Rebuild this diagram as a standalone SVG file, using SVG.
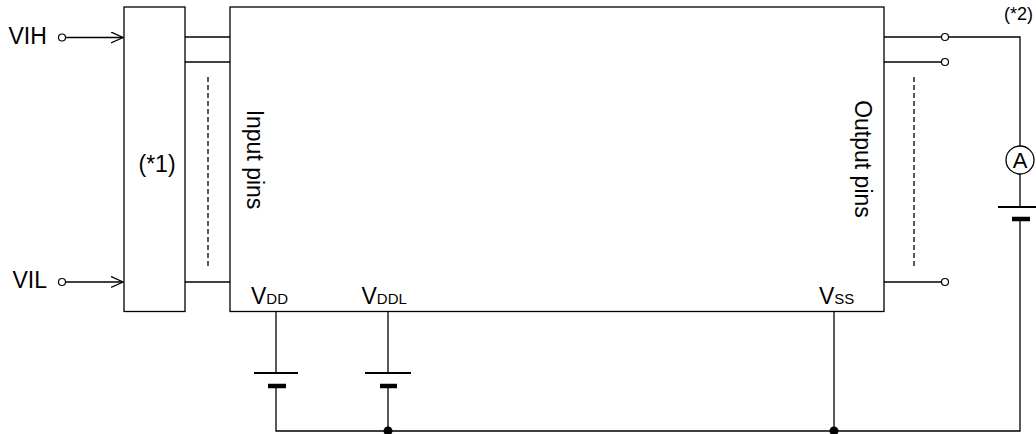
<svg xmlns="http://www.w3.org/2000/svg" width="1036" height="434" viewBox="0 0 1036 434">
<style>
  .ln{stroke:#000;stroke-width:1.3;fill:none}
  .box{stroke:#000;stroke-width:1.3;fill:#fff}
  .dash{stroke:#000;stroke-width:1.3;fill:none;stroke-dasharray:5 3}
  .term{stroke:#000;stroke-width:1.2;fill:#fff}
  .dot{fill:#000}
  .pl1{stroke:#000;stroke-width:2.2}
  .pl2{stroke:#000;stroke-width:4.5}
  text{font-family:"Liberation Sans",Arial,sans-serif;fill:#000}
  .t{font-size:23px}
  .s{font-size:15px}
</style>
<defs>
  <marker id="arr" markerWidth="14" markerHeight="14" refX="12" refY="6" orient="auto" markerUnits="userSpaceOnUse">
    <path d="M0,0.5 L12,6 L0,11.5" fill="none" stroke="#000" stroke-width="1.3"/>
  </marker>
</defs>

<g id="connectors">
  <line class="ln" x1="65.5" y1="37.5" x2="123" y2="37.5" marker-end="url(#arr)"/>
  <line class="ln" x1="65.5" y1="282" x2="123" y2="282" marker-end="url(#arr)"/>
  <line class="ln" x1="185" y1="37" x2="230" y2="37"/>
  <line class="ln" x1="185" y1="62" x2="230" y2="62"/>
  <line class="ln" x1="185" y1="282" x2="230" y2="282"/>
  <line class="dash" x1="208" y1="77" x2="208" y2="266"/>
  <line class="ln" x1="884" y1="37" x2="941.5" y2="37"/>
  <line class="ln" x1="884" y1="62" x2="941.5" y2="62"/>
  <line class="ln" x1="884" y1="282" x2="941.5" y2="282"/>
  <line class="dash" x1="914" y1="77" x2="914" y2="266"/>
  <polyline class="ln" points="948.5,37 1020,37 1020,146"/>
  <line class="ln" x1="1020" y1="174" x2="1020" y2="207"/>
  <polyline class="ln" points="1020,219 1020,431 276,431 276,386"/>
  <line class="ln" x1="276" y1="311.5" x2="276" y2="373"/>
  <line class="ln" x1="388" y1="311.5" x2="388" y2="373"/>
  <line class="ln" x1="388" y1="386" x2="388" y2="431"/>
  <line class="ln" x1="834" y1="311.5" x2="834" y2="431"/>
  <circle class="dot" cx="388" cy="431" r="4.5"/>
  <circle class="dot" cx="834" cy="431" r="4.5"/>
</g>

<g id="vih">
  <text class="t" x="8.5" y="44">VIH</text>
  <circle class="term" cx="62" cy="37.5" r="3.5"/>
</g>
<g id="vil">
  <text class="t" x="12.5" y="288">VIL</text>
  <circle class="term" cx="62" cy="282" r="3.5"/>
</g>

<g id="block1">
  <rect class="box" x="124" y="7" width="61" height="304.5"/>
  <text class="t" x="138.5" y="172">(*1)</text>
</g>

<g id="device">
  <rect class="box" x="230" y="7" width="654" height="304.5"/>
  <text class="t" text-anchor="middle" transform="translate(247,159.5) rotate(90)">Input pins</text>
  <text class="t" text-anchor="middle" transform="translate(855,159) rotate(90)">Output pins</text>
  <text class="t" x="251" y="303.5">V<tspan class="s">DD</tspan></text>
  <text class="t" x="361.5" y="303.5">V<tspan class="s">DDL</tspan></text>
  <text class="t" x="819" y="304">V<tspan class="s">SS</tspan></text>
</g>

<g id="out-terminals">
  <circle class="term" cx="945" cy="37" r="3.5"/>
  <circle class="term" cx="945" cy="62" r="3.5"/>
  <circle class="term" cx="945" cy="282" r="3.5"/>
</g>

<g id="bat-vdd">
  <line class="pl1" x1="254" y1="373" x2="298" y2="373"/>
  <line class="pl2" x1="268" y1="386" x2="286" y2="386"/>
</g>
<g id="bat-vddl">
  <line class="pl1" x1="365" y1="373" x2="411" y2="373"/>
  <line class="pl2" x1="380" y1="386" x2="397" y2="386"/>
</g>
<g id="bat-out">
  <line class="pl1" x1="998" y1="207" x2="1042" y2="207"/>
  <line class="pl2" x1="1012" y1="219" x2="1030" y2="219"/>
</g>

<g id="ammeter">
  <circle class="box" cx="1020" cy="160" r="14" stroke-width="1.5"/>
  <text x="1020" y="168" text-anchor="middle" font-size="22">A</text>
</g>

<g id="note2">
  <text x="1033" y="20" text-anchor="end" font-size="18">(*2)</text>
</g>
</svg>
